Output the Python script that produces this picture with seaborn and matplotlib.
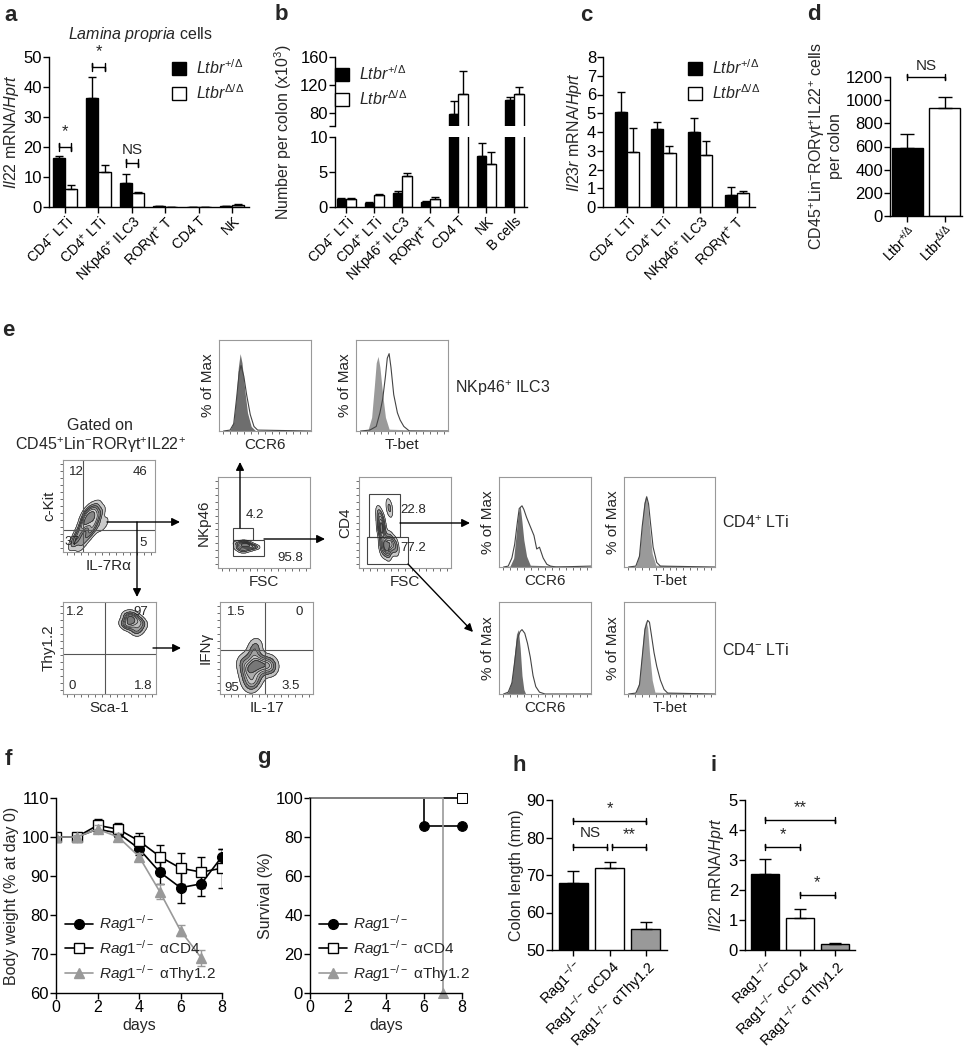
import numpy as np
import pandas as pd
import matplotlib
matplotlib.use("Agg")
import matplotlib.pyplot as plt
from matplotlib.patches import Patch, Rectangle
from matplotlib.lines import Line2D
import seaborn as sns

# ---------------- data ----------------
cells_a = ['CD4$^{-}$ LTi', 'CD4$^{+}$ LTi', 'NKp46$^{+}$ ILC3', 'RORγt$^{+}$ T', 'CD4 T', 'NK']
il22_het = [16.3, 36.5, 8.0, 0.2, 0.1, 0.3]
il22_het_err = [0.8, 7.0, 3.0, 0.1, 0.05, 0.1]
il22_ko = [6.0, 11.8, 4.6, 0.1, 0.1, 0.8]
il22_ko_err = [1.5, 2.3, 0.5, 0.05, 0.05, 0.3]

cells_b = cells_a + ['B cells']
num_het = [1.1, 0.6, 2.0, 0.7, 79, 7.3, 98.6]
num_het_err = [0.15, 0.1, 0.3, 0.1, 18, 1.8, 5]
num_ko = [1.2, 1.7, 4.5, 1.2, 107, 6.2, 107]
num_ko_err = [0.15, 0.15, 0.4, 0.3, 33, 1.7, 10]

cells_c = cells_a[:4]
il23r_het = [5.05, 4.15, 4.0, 0.65]
il23r_het_err = [1.1, 0.4, 0.75, 0.4]
il23r_ko = [2.95, 2.9, 2.8, 0.75]
il23r_ko_err = [1.25, 0.35, 0.7, 0.1]

geno_d = ['Ltbr$^{+/\\Delta}$', 'Ltbr$^{\\Delta/\\Delta}$']
ilc_d = [590, 930]
ilc_d_err = [120, 100]

days = [0, 1, 2, 3, 4, 5, 6, 7, 8]
bw_rag = [100, 100, 102, 101, 97, 91, 87, 88, 95]
bw_rag_err = [0, 0.5, 1, 1, 1.5, 3, 4, 3, 2]
bw_cd4 = [100, 100, 103, 102, 99, 95, 92, 91, 92]
bw_cd4_err = [0, 0.5, 1.5, 1.5, 2, 3, 4, 4, 5]
days_thy = [0, 1, 2, 3, 4, 5, 6, 7]
bw_thy = [100, 100, 102, 100, 95, 86, 76, 69]
bw_thy_err = [0, 0.5, 1, 1, 1, 2, 1.5, 2]

surv_days_rag = [0, 6, 8]
surv_rag = [100, 85.7, 85.7]
surv_days_cd4 = [0, 8]
surv_cd4 = [100, 100]
surv_days_thy = [0, 7]
surv_thy = [100, 0]

groups_hi = ['Rag1$^{-/-}$', 'Rag1$^{-/-}$ αCD4', 'Rag1$^{-/-}$ αThy1.2']
colon_len = [68, 72, 55.5]
colon_len_err = [3, 1.5, 2]
il22_rag = [2.55, 1.08, 0.2]
il22_rag_err = [0.5, 0.3, 0.02]

# flow histograms (fraction of box): control (filled) and sample (line)
hist = {
    'nk_ccr6': ([0.05, 0.12, 0.16, 0.19, 0.21, 0.23, 0.25, 0.28, 0.31, 0.35, 0.40, 1.0],
                [0, 0.01, 0.1, 0.4, 0.7, 0.85, 0.75, 0.45, 0.2, 0.05, 0, 0],
                [0.05, 0.12, 0.16, 0.19, 0.22, 0.24, 0.27, 0.30, 0.34, 0.38, 0.42, 1.0],
                [0, 0.01, 0.08, 0.35, 0.65, 0.72, 0.6, 0.4, 0.18, 0.05, 0.01, 0]),
    'nk_tbet': ([0.05, 0.13, 0.17, 0.20, 0.22, 0.24, 0.26, 0.29, 0.32, 0.36, 1.0],
                [0, 0.01, 0.15, 0.5, 0.75, 0.82, 0.7, 0.4, 0.15, 0.02, 0],
                [0.05, 0.15, 0.22, 0.26, 0.29, 0.32, 0.34, 0.36, 0.38, 0.41, 0.45, 0.48, 0.52, 0.58, 1.0],
                [0, 0.01, 0.05, 0.2, 0.35, 0.6, 0.8, 0.85, 0.7, 0.4, 0.2, 0.12, 0.05, 0, 0]),
    'cd4p_ccr6': ([0.05, 0.12, 0.16, 0.19, 0.21, 0.23, 0.25, 0.27, 0.30, 0.34, 1.0],
                  [0, 0.01, 0.1, 0.4, 0.6, 0.68, 0.5, 0.3, 0.12, 0.02, 0],
                  [0.05, 0.10, 0.14, 0.17, 0.20, 0.22, 0.25, 0.27, 0.30, 0.34, 0.38, 0.41, 0.44, 0.48, 0.52, 0.56, 0.62, 1.0],
                  [0, 0.01, 0.1, 0.25, 0.5, 0.65, 0.68, 0.64, 0.55, 0.45, 0.35, 0.2, 0.22, 0.1, 0.03, 0.01, 0, 0.01]),
    'cd4p_tbet': ([0.05, 0.13, 0.17, 0.20, 0.22, 0.24, 0.26, 0.28, 0.31, 0.35, 1.0],
                  [0, 0.01, 0.15, 0.5, 0.72, 0.8, 0.7, 0.45, 0.15, 0.02, 0],
                  [0.05, 0.13, 0.17, 0.20, 0.23, 0.25, 0.27, 0.29, 0.32, 0.36, 0.40, 1.0],
                  [0, 0.01, 0.12, 0.45, 0.7, 0.78, 0.7, 0.5, 0.22, 0.05, 0.01, 0]),
    'cd4n_ccr6': ([0.05, 0.10, 0.14, 0.17, 0.19, 0.21, 0.23, 0.25, 0.27, 0.29, 1.0],
                  [0, 0.02, 0.15, 0.45, 0.65, 0.7, 0.5, 0.2, 0.05, 0, 0],
                  [0.05, 0.10, 0.14, 0.17, 0.20, 0.23, 0.25, 0.28, 0.31, 0.34, 0.37, 0.40, 0.44, 0.50, 1.0],
                  [0, 0.02, 0.12, 0.35, 0.6, 0.68, 0.7, 0.66, 0.55, 0.4, 0.2, 0.08, 0.02, 0, 0]),
    'cd4n_tbet': ([0.05, 0.13, 0.17, 0.20, 0.22, 0.24, 0.26, 0.28, 0.31, 0.34, 1.0],
                  [0, 0.01, 0.15, 0.5, 0.72, 0.8, 0.72, 0.45, 0.15, 0.02, 0],
                  [0.05, 0.13, 0.17, 0.20, 0.23, 0.26, 0.28, 0.30, 0.33, 0.36, 0.40, 0.44, 0.48, 1.0],
                  [0, 0.01, 0.1, 0.4, 0.7, 0.8, 0.78, 0.65, 0.45, 0.3, 0.15, 0.05, 0.01, 0]),
}

# flow contour "events" (fraction of box)
p1x = [0.29, 0.25, 0.33, 0.22, 0.36, 0.28, 0.31, 0.18, 0.40, 0.27, 0.35, 0.12, 0.15, 0.30, 0.24, 0.44, 0.20, 0.33]
p1y = [0.37, 0.33, 0.40, 0.30, 0.35, 0.45, 0.28, 0.22, 0.42, 0.18, 0.48, 0.10, 0.15, 0.37, 0.40, 0.30, 0.08, 0.25]
p2x = [0.29, 0.26, 0.32, 0.23, 0.36, 0.29, 0.40, 0.27, 0.33, 0.22]
p2y = [0.25, 0.24, 0.26, 0.22, 0.24, 0.28, 0.23, 0.19, 0.21, 0.27]
p3x = [0.32, 0.28, 0.36, 0.25, 0.40, 0.31, 0.34, 0.24, 0.23, 0.25, 0.22, 0.26, 0.33, 0.29]
p3y = [0.25, 0.23, 0.26, 0.22, 0.24, 0.19, 0.29, 0.38, 0.45, 0.52, 0.58, 0.42, 0.66, 0.27]
p4x = [0.75, 0.70, 0.80, 0.66, 0.85, 0.74, 0.78, 0.69, 0.82, 0.72]
p4y = [0.78, 0.74, 0.82, 0.76, 0.77, 0.86, 0.68, 0.84, 0.72, 0.80]
p5x = [0.38, 0.33, 0.42, 0.28, 0.47, 0.36, 0.40, 0.25, 0.52, 0.35, 0.38, 0.30, 0.56]
p5y = [0.31, 0.28, 0.34, 0.25, 0.30, 0.42, 0.18, 0.35, 0.33, 0.10, 0.52, 0.15, 0.28]

# ---------------- style ----------------
sns.set_style("ticks")
plt.rcParams['font.family'] = ['Liberation Sans', 'DejaVu Sans']
plt.rcParams['mathtext.fontset'] = 'custom'
plt.rcParams['mathtext.rm'] = 'Liberation Sans'
plt.rcParams['mathtext.it'] = 'Liberation Sans:italic'
plt.rcParams['mathtext.bf'] = 'Liberation Sans:bold'
plt.rcParams['axes.linewidth'] = 1.0
plt.rcParams['xtick.major.width'] = 1.0
plt.rcParams['ytick.major.width'] = 1.0
plt.rcParams['xtick.major.size'] = 4
plt.rcParams['ytick.major.size'] = 4
plt.rcParams['xtick.labelsize'] = 11.5
plt.rcParams['ytick.labelsize'] = 12
plt.rcParams['axes.labelsize'] = 11.5

W, H = 964, 1050
fig = plt.figure(figsize=(W / 100, H / 100), dpi=100)
flow_cmap = sns.blend_palette(['#e6e6e6', '#7a7a7a', '#d0d0d0', '#5a5a5a'], as_cmap=True)


def add_ax(x0, y0, x1, y1, **kw):
    return fig.add_axes([x0 / W, 1 - y1 / H, (x1 - x0) / W, (y1 - y0) / H], **kw)


def clean(ax):
    sns.despine(ax=ax)
    ax.tick_params(colors='black', pad=1)
    for s in ['left', 'bottom']:
        ax.spines[s].set_color('black')


def pair_bars(ax, cats, het, het_err, ko, ko_err, width):
    df = pd.DataFrame({'cell': cats * 2, 'val': het + ko,
                       'geno': ['het'] * len(cats) + ['ko'] * len(cats)})
    sns.barplot(data=df, x='cell', y='val', hue='geno', palette=['black', 'white'],
                edgecolor='black', linewidth=1, width=width, errorbar=None,
                legend=False, saturation=1, ax=ax)
    bars = sorted(ax.patches, key=lambda b: b.get_x())
    xs = [b.get_x() + b.get_width() / 2 for b in bars]
    vals, errs = [], []
    for i in range(len(cats)):
        vals += [het[i], ko[i]]
        errs += [het_err[i], ko_err[i]]
    ax.errorbar(xs, vals, yerr=[np.zeros(len(vals)), errs], fmt='none', ecolor='black',
                elinewidth=1, capsize=3, capthick=1, zorder=5)
    ax.set_xlabel('')
    return xs


def rot_labels(ax, labels, size=None):
    ax.set_xticks(range(len(labels)))
    ax.set_xticklabels(labels, rotation=45, ha='right', rotation_mode='anchor', fontsize=size)


def bracket(ax, x1, x2, y, cap, text, ty, size=12):
    ax.plot([x1, x1, x1, x2, x2, x2], [y - cap, y + cap, y, y, y - cap, y + cap],
            color='black', lw=1, clip_on=False)
    ax.text((x1 + x2) / 2, ty, text, ha='center', va='baseline', fontsize=size)


def geno_legend(ax, x, y):
    h = [Patch(facecolor='black', edgecolor='black'), Patch(facecolor='white', edgecolor='black')]
    ax.legend(h, ['$\\mathit{Ltbr}^{+/\\Delta}$', '$\\mathit{Ltbr}^{\\Delta/\\Delta}$'],
              loc='upper left', bbox_to_anchor=(x / W, 1 - y / H), bbox_transform=fig.transFigure,
              frameon=False, fontsize=11.5, handlelength=0.9, handleheight=0.9,
              handletextpad=0.6, borderaxespad=0, borderpad=0, labelspacing=0.4)


# ---------------- a ----------------
ax = add_ax(49, 57, 249, 207)
xs = pair_bars(ax, cells_a, il22_het, il22_het_err, il22_ko, il22_ko_err, 0.72)
ax.set_ylim(0, 50)
ax.set_xlim(-0.48, 5.5)
ax.set_yticks([0, 10, 20, 30, 40, 50])
rot_labels(ax, cells_a)
ax.set_ylabel('$\\mathit{Il22}$ mRNA/$\\mathit{Hprt}$', labelpad=2)
clean(ax)
bracket(ax, xs[0], xs[1], 20, 1.3, '*', 23.5)
bracket(ax, xs[2], xs[3], 46.7, 1.3, '*', 50.2)
bracket(ax, xs[4], xs[5], 14.7, 1.3, 'NS', 17.5, size=11)
geno_legend(ax, 172, 58)

# ---------------- b (broken axis) ----------------
axb_top = add_ax(335, 57, 527, 126)
axb_bot = add_ax(335, 137, 527, 207)
for a_ in (axb_top, axb_bot):
    pair_bars(a_, cells_b, num_het, num_het_err, num_ko, num_ko_err, 0.68)
    a_.set_xlim(-0.4, 6.45)
    clean(a_)
axb_top.set_ylim(61.5, 160)
axb_top.set_yticks([61.5, 80, 120, 160])
axb_top.set_yticklabels(['', '80', '120', '160'])
axb_top.spines['bottom'].set_visible(False)
axb_top.tick_params(axis='x', bottom=False, labelbottom=False)
axb_top.set_ylabel('')
axb_bot.set_ylim(0, 10)
axb_bot.set_yticks([0, 5, 10])
axb_bot.set_ylabel('')
rot_labels(axb_bot, cells_b)
fig.text(283 / W, 1 - 132 / H, 'Number per colon (x10$^{3}$)', rotation=90,
         ha='center', va='center', fontsize=11.5)
geno_legend(axb_top, 335, 64)

# ---------------- c ----------------
ax = add_ax(603, 57, 755, 207)
pair_bars(ax, cells_c, il23r_het, il23r_het_err, il23r_ko, il23r_ko_err, 0.66)
ax.set_ylim(0, 8)
ax.set_xlim(-0.65, 3.5)
ax.set_yticks(range(0, 9))
rot_labels(ax, cells_c)
ax.set_ylabel('$\\mathit{Il23r}$ mRNA/$\\mathit{Hprt}$', labelpad=2)
clean(ax)
geno_legend(ax, 688, 58)

# ---------------- d ----------------
ax = add_ax(890, 77, 962, 216)
dfd = pd.DataFrame({'geno': geno_d, 'val': ilc_d})
sns.barplot(data=dfd, x='geno', y='val', hue='geno', palette=['black', 'white'], edgecolor='black',
            linewidth=1, width=0.82, errorbar=None, legend=False, saturation=1, ax=ax)
xd = [b.get_x() + b.get_width() / 2 for b in sorted(ax.patches, key=lambda b: b.get_x())]
ax.errorbar(xd, ilc_d, yerr=[[0, 0], ilc_d_err], fmt='none', ecolor='black', elinewidth=1,
            capsize=5, capthick=1, zorder=5)
ax.set_ylim(0, 1200)
ax.set_xlim(-0.45, 1.45)
ax.set_yticks(range(0, 1201, 200))
rot_labels(ax, geno_d)
ax.set_xlabel('')
ax.set_ylabel('CD45$^{+}$Lin$^{-}$RORγt$^{+}$IL22$^{+}$ cells\nper colon', labelpad=2,
              linespacing=1.1)
clean(ax)
bracket(ax, xd[0], xd[1], 1200, 30, 'NS', 1260, size=11)

# ---------------- e: histograms ----------------
def histo(box, key, xlabel):
    ax = add_ax(*box)
    gx, gy, lx, ly = hist[key]
    fill_col = '#6e6e6e' if 'ccr6' in key else '#9a9a9a'
    ax.fill_between(gx, gy, color=fill_col, lw=0)
    sns.lineplot(x=lx, y=ly, color='#444444', lw=0.8, ax=ax)
    ax.set_xlim(0, 1)
    ax.set_ylim(0, 1)
    for s in ax.spines.values():
        s.set_color('#999999')
        s.set_linewidth(0.8)
    ax.set_xticks(np.linspace(0.04, 0.96, 13))
    ax.set_yticks([])
    ax.tick_params(axis='x', length=2, width=0.6, color='#555555', labelbottom=False)
    ax.set_ylabel('% of Max', fontsize=11, labelpad=3)
    ax.set_xlabel(xlabel, fontsize=11, labelpad=3)
    return ax


histo((219, 340, 311, 431), 'nk_ccr6', 'CCR6')
histo((356, 340, 448, 431), 'nk_tbet', 'T-bet')
histo((499, 477, 591, 567), 'cd4p_ccr6', 'CCR6')
histo((624, 477, 715, 567), 'cd4p_tbet', 'T-bet')
histo((499, 602, 591, 694), 'cd4n_ccr6', 'CCR6')
histo((624, 602, 715, 694), 'cd4n_tbet', 'T-bet')


# ---------------- e: contour plots ----------------
def flow(box, px_, py_, xlabel, ylabel, bw=1.0):
    ax = add_ax(*box)
    sns.kdeplot(x=px_, y=py_, fill=True, cmap=flow_cmap, levels=7, thresh=0.08,
                bw_adjust=bw, clip=((0, 1), (0, 1)), ax=ax)
    sns.kdeplot(x=px_, y=py_, color='#222222', levels=7, thresh=0.08, linewidths=0.5,
                bw_adjust=bw, clip=((0, 1), (0, 1)), ax=ax)
    ax.set_xlim(0, 1)
    ax.set_ylim(0, 1)
    for s in ax.spines.values():
        s.set_color('#999999')
        s.set_linewidth(0.8)
    ax.set_xticks(np.linspace(0.04, 0.96, 13))
    ax.set_yticks(np.linspace(0.04, 0.96, 13))
    ax.tick_params(length=2, width=0.6, color='#555555', labelbottom=False, labelleft=False)
    ax.set_xlabel(xlabel, fontsize=11, labelpad=3)
    ax.set_ylabel(ylabel, fontsize=11, labelpad=3)
    return ax


f1 = flow((63, 460, 155, 552), p1x, p1y, 'IL-7Rα', 'c-Kit', 0.9)
f1.axvline(0.22, color='#555555', lw=0.8)
f1.axhline(0.24, color='#555555', lw=0.8)
f2 = flow((218, 477, 310, 568), p2x, p2y, 'FSC', 'NKp46', 1.0)
f2.add_patch(Rectangle((0.16, 0.31), 0.22, 0.13, fill=False, ec='#444444', lw=0.8))
f2.add_patch(Rectangle((0.16, 0.13), 0.34, 0.18, fill=False, ec='#444444', lw=0.8))
f3 = flow((359, 477, 451, 568), p3x, p3y, 'FSC', 'CD4', 0.7)
f3.add_patch(Rectangle((0.11, 0.34), 0.34, 0.47, fill=False, ec='#444444', lw=0.8))
f3.add_patch(Rectangle((0.09, 0.04), 0.44, 0.30, fill=False, ec='#444444', lw=0.8))
f4 = flow((63, 602, 156, 694), p4x, p4y, 'Sca-1', 'Thy1.2', 1.0)
f4.axvline(0.45, color='#555555', lw=0.8)
f4.axhline(0.44, color='#555555', lw=0.8)
f5 = flow((220, 602, 313, 694), p5x, p5y, 'IL-17', 'IFNγ', 0.9)
f5.axvline(0.48, color='#555555', lw=0.8)
f5.axhline(0.48, color='#555555', lw=0.8)

# ---------------- f ----------------
ax = add_ax(56, 798, 222, 993)
series_f = [(days, bw_rag, bw_rag_err, 'o', 'black', 'black', 'black'),
            (days, bw_cd4, bw_cd4_err, 's', 'white', 'black', 'black'),
            (days_thy, bw_thy, bw_thy_err, '^', '#999999', '#999999', '#999999')]
labels_fg = ['$\\mathit{Rag1}^{-/-}$', '$\\mathit{Rag1}^{-/-}$ αCD4', '$\\mathit{Rag1}^{-/-}$ αThy1.2']
for (dx, v, e, m, fc, ec, lc), lab in zip(series_f, labels_fg):
    ax.errorbar(dx, v, yerr=e, fmt='none', ecolor=lc, elinewidth=1, capsize=3, capthick=1)
    sns.lineplot(x=dx, y=v, color=lc, lw=1.2, marker=m, markersize=7, markerfacecolor=fc,
                 markeredgecolor=ec, markeredgewidth=1, label=lab, ax=ax)
ax.set_ylim(60, 110)
ax.set_xlim(0, 8)
ax.set_yticks(range(60, 111, 10))
ax.set_xticks([0, 2, 4, 6, 8])
ax.set_xlabel('days', labelpad=2)
ax.set_ylabel('Body weight (% at day 0)', labelpad=2)
clean(ax)
ax.legend(loc='lower left', frameon=False, fontsize=11, handlelength=1.8,
          borderaxespad=0.2, labelspacing=0.25, handletextpad=0.4)

# ---------------- g ----------------
ax = add_ax(310, 798, 462, 993)
series_g = [(surv_days_rag, surv_rag, 'o', 'black', 'black', 'black', [1, 2]),
            (surv_days_cd4, surv_cd4, 's', 'white', 'black', 'black', [1]),
            (surv_days_thy, surv_thy, '^', '#999999', '#999999', '#999999', [1])]
for (dx, v, m, fc, ec, lc, me), lab in zip(series_g, labels_fg):
    sns.lineplot(x=dx, y=v, color=lc, lw=1.2, drawstyle='steps-post', ax=ax, label=lab,
                 marker=m, markersize=7, markerfacecolor=fc, markeredgecolor=ec,
                 markevery=me, clip_on=False)
ax.set_ylim(0, 100)
ax.set_xlim(0, 8)
ax.set_yticks(range(0, 101, 20))
ax.set_xticks([0, 2, 4, 6, 8])
ax.set_xlabel('days', labelpad=2)
ax.set_ylabel('Survival (%)', labelpad=2)
clean(ax)
hg = [Line2D([], [], color=c, marker=m, markersize=7, markerfacecolor=fc, markeredgecolor=ec, lw=1.2)
      for (_, _, m, fc, ec, c, _) in series_g]
ax.legend(hg, labels_fg, loc='lower left', frameon=False, fontsize=11, handlelength=1.8,
          borderaxespad=0.2, labelspacing=0.25, handletextpad=0.4)


# ---------------- h, i ----------------
def tri_bars(box, vals, errs):
    ax = add_ax(*box)
    dfh = pd.DataFrame({'grp': groups_hi, 'val': vals})
    sns.barplot(data=dfh, x='grp', y='val', hue='grp', palette=['black', 'white', '#999999'],
                edgecolor='black', linewidth=1, width=0.8, errorbar=None, legend=False,
                saturation=1, ax=ax)
    xh = [b.get_x() + b.get_width() / 2 for b in sorted(ax.patches, key=lambda b: b.get_x())]
    ax.errorbar(xh, vals, yerr=[[0, 0, 0], errs], fmt='none', ecolor='black', elinewidth=1,
                capsize=4, capthick=1, zorder=5)
    ax.set_xlim(-0.58, 2.58)
    rot_labels(ax, groups_hi, size=10.5)
    ax.set_xlabel('')
    clean(ax)
    return ax, xh


ax, xh = tri_bars((552, 800, 667, 950), colon_len, colon_len_err)
ax.set_ylim(50, 90)
ax.set_yticks(range(50, 91, 10))
ax.set_ylabel('Colon length (mm)', labelpad=2)
bracket(ax, xh[0], xh[2], 84.5, 0.8, '*', 86.5)
bracket(ax, xh[0], xh[1] - 0.06, 77.6, 0.8, 'NS', 80.2, size=11)
bracket(ax, xh[1] + 0.06, xh[2], 77.6, 0.8, '**', 79.6)

ax, xh = tri_bars((745, 800, 855, 950), il22_rag, il22_rag_err)
ax.set_ylim(0, 5)
ax.set_yticks(range(0, 6))
ax.set_ylabel('$\\mathit{Il22}$ mRNA/$\\mathit{Hprt}$', labelpad=2)
bracket(ax, xh[0], xh[2], 4.35, 0.1, '**', 4.6)
bracket(ax, xh[0], xh[1], 3.45, 0.1, '*', 3.7)
bracket(ax, xh[1], xh[2], 1.85, 0.1, '*', 2.1)

# ---------------- overlay: letters, text, arrows ----------------
ov = fig.add_axes([0, 0, 1, 1], zorder=20)
ov.set_xlim(0, W)
ov.set_ylim(H, 0)
ov.axis('off')
ov.patch.set_alpha(0)

for letter, x, y in [('a', 4, 21), ('b', 275, 20), ('c', 580, 21), ('d', 807, 20), ('e', 2, 336),
                     ('f', 5, 765), ('g', 257, 763), ('h', 512, 771), ('i', 710, 771)]:
    ov.text(x, y, letter, fontsize=16, fontweight='bold', va='baseline', ha='left')

ov.text(140, 39, '$\\mathit{Lamina\\ propria}$ cells', ha='center', va='baseline', fontsize=11.5)

ov.text(100, 430, 'Gated on', ha='center', va='baseline', fontsize=11.5)
ov.text(100, 450, 'CD45$^{+}$Lin$^{-}$RORγt$^{+}$IL22$^{+}$', ha='center', va='baseline', fontsize=11.5)
ov.text(455, 393, 'NKp46$^{+}$ ILC3', ha='left', va='baseline', fontsize=11.5)
ov.text(722, 528, 'CD4$^{+}$ LTi', ha='left', va='baseline', fontsize=11.5)
ov.text(722, 655, 'CD4$^{-}$ LTi', ha='left', va='baseline', fontsize=11.5)

for txt, x, y in [('12', 76, 472), ('46', 140, 472), ('37', 72, 542), ('5', 143, 543),
                  ('4.2', 255, 515), ('95.8', 290, 558), ('22.8', 413, 510), ('77.2', 413, 548),
                  ('1.2', 75, 612), ('97', 141, 612), ('0', 72, 686), ('1.8', 143, 686),
                  ('1.5', 236, 612), ('0', 299, 612), ('95', 232, 688), ('3.5', 291, 686)]:
    ov.text(x, y, txt, ha='center', va='center', fontsize=9.5)

arrow = dict(arrowstyle='-|>', color='black', lw=1, mutation_scale=12, shrinkA=0, shrinkB=0)
for (x0, y0), (x1, y1) in [((107, 522), (180, 522)), ((137, 522), (137, 597)),
                           ((240, 528), (240, 462)), ((264, 539), (325, 539)),
                           ((400, 523), (470, 523)), ((408, 564), (473, 632)),
                           ((153, 648), (181, 648))]:
    ov.annotate('', xy=(x1, y1), xytext=(x0, y0), arrowprops=arrow)

fig.savefig('out.png', dpi=100)
